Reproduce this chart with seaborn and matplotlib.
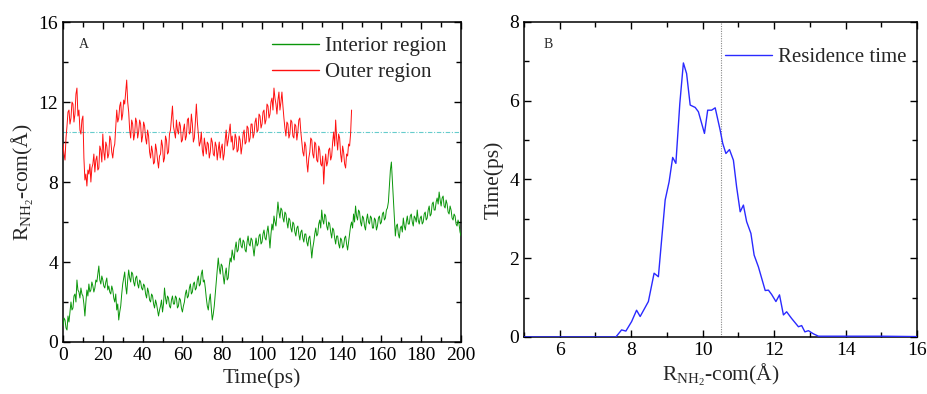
import numpy as np
import matplotlib
matplotlib.use("Agg")
import matplotlib.pyplot as plt
from matplotlib.ticker import MultipleLocator
import seaborn as sns

# ---- data -------------------------------------------------------------
# distance of the NH2 group from the centre of mass (Å), sampled every 0.5 ps
dt = 0.5
outer_dist = [
    9.9, 9.4, 9.1, 10.2, 10.8, 11.5, 11.6, 10.9, 11.2, 12.0,
    11.9, 11.0, 11.4, 12.4, 12.7, 11.3, 11.6, 10.6, 10.4, 11.1,
    11.3, 9.2, 8.1, 8.4, 7.8, 8.6, 8.4, 8.9, 8.0, 8.7,
    8.9, 9.4, 8.5, 9.1, 9.3, 8.6, 8.7, 9.8, 9.6, 9.0,
    10.4, 9.5, 9.1, 10.0, 9.8, 9.2, 9.4, 10.3, 10.1, 9.5,
    9.2, 9.7, 9.9, 10.8, 11.6, 11.0, 11.2, 11.8, 12.0, 11.1,
    11.4, 12.1, 11.9, 12.5, 13.1, 12.0, 11.5, 10.6, 10.2, 11.1,
    10.9, 10.1, 10.4, 11.2, 11.0, 10.2, 10.5, 11.1, 10.9, 10.0,
    10.3, 11.0, 10.8, 10.2, 9.9, 10.6, 10.3, 9.5, 9.2, 9.8,
    9.5, 8.9, 9.0, 9.9, 9.6, 9.1, 8.7, 9.3, 9.4, 10.1,
    9.8, 9.0, 9.2, 10.3, 10.1, 9.4, 9.5, 10.4, 10.6, 11.2,
    11.8, 10.8, 10.5, 10.2, 11.1, 10.6, 10.4, 11.0, 10.8, 10.0,
    10.1, 10.6, 10.9, 10.1, 10.3, 11.1, 11.2, 10.4, 10.5, 11.4,
    10.9, 10.0, 10.2, 11.0, 11.9, 11.0, 10.4, 9.8, 10.0, 10.5,
    9.6, 9.3, 10.2, 9.8, 9.4, 10.0, 9.9, 9.2, 9.5, 10.2,
    10.0, 9.4, 9.3, 10.0, 9.8, 9.1, 9.6, 10.0, 9.2, 9.7,
    9.9, 9.1, 9.4, 10.1, 10.6, 9.8, 10.1, 10.5, 10.9, 10.0,
    10.3, 9.6, 9.7, 10.4, 10.2, 9.5, 9.6, 10.3, 10.1, 9.4,
    9.8, 10.4, 10.6, 9.9, 10.0, 10.8, 10.7, 10.0, 10.2, 10.9,
    10.9, 10.2, 10.4, 11.0, 11.2, 10.5, 10.6, 11.4, 11.3, 10.7,
    10.9, 11.5, 11.6, 10.9, 11.1, 11.9, 11.8, 11.2, 11.4, 12.0,
    12.2, 11.6, 12.7, 12.2, 11.9, 11.4, 12.1, 12.5, 11.6, 12.0,
    12.5, 11.8, 11.2, 10.7, 10.3, 11.0, 10.9, 10.2, 10.4, 11.1,
    11.0, 10.3, 10.2, 10.9, 10.8, 10.1, 10.5, 11.1, 11.2, 10.5,
    10.0, 9.5, 9.3, 10.0, 9.8, 9.0, 8.5, 9.2, 9.5, 10.2,
    10.1, 9.4, 9.2, 10.0, 9.9, 9.1, 9.0, 9.8, 9.6, 8.9,
    8.8, 9.3, 7.9, 8.9, 9.4, 8.8, 9.0, 9.6, 9.7, 9.1,
    9.3, 10.0, 10.5, 9.8, 11.1, 10.2, 9.6, 10.4, 10.2, 9.4,
    9.0, 9.8, 9.5, 8.9, 8.7, 9.4, 9.3, 9.9, 9.8, 10.4,
    11.6,
]

interior_dist = [
    0.8, 1.2, 1.1, 0.7, 0.6, 1.3, 1.0, 1.5, 2.0, 1.6,
    1.7, 2.3, 2.4, 2.0, 3.1, 2.6, 2.5, 2.2, 2.7, 2.4,
    2.3, 1.9, 1.3, 2.0, 2.6, 2.3, 2.9, 2.5, 2.6, 3.0,
    2.8, 2.5, 2.7, 3.1, 3.0, 3.4, 3.8, 3.1, 2.9, 3.3,
    3.1, 2.8, 2.7, 3.0, 3.2, 2.6, 2.8, 2.5, 2.4, 2.8,
    2.6, 2.2, 2.0, 2.4, 1.6, 1.9, 1.1, 1.5, 1.8, 2.4,
    2.9, 3.2, 3.5, 2.8, 2.4, 3.1, 3.6, 3.2, 3.0, 3.5,
    3.4, 3.0, 2.8, 3.2, 3.3, 2.9, 2.7, 3.1, 3.0, 2.7,
    2.6, 2.9, 2.8, 2.4, 2.2, 2.7, 2.5, 2.1, 2.0, 2.4,
    2.3, 1.9, 1.7, 2.1, 1.9, 1.6, 1.3, 1.6, 1.8, 2.1,
    1.5, 1.9, 2.7, 2.2, 1.9, 2.3, 2.2, 1.8, 1.7, 2.1,
    2.3, 1.9, 1.9, 2.3, 2.2, 1.7, 1.8, 2.2, 2.1, 1.7,
    1.5, 1.8, 2.0, 2.4, 2.6, 2.2, 2.3, 2.7, 2.9, 2.4,
    2.5, 2.9, 3.0, 2.6, 2.7, 3.1, 3.3, 2.8, 2.9, 3.4,
    3.6, 3.0, 3.1, 2.7, 2.2, 1.8, 1.6, 2.1, 2.4, 1.7,
    1.1, 1.4, 1.8, 2.4, 3.0, 3.6, 4.2, 3.7, 3.4, 3.9,
    3.8, 3.3, 2.9, 3.4, 3.7, 3.1, 3.2, 3.8, 4.2, 4.0,
    4.6, 4.3, 4.1, 4.7, 5.0, 4.5, 4.6, 5.1, 5.2, 4.8,
    4.7, 5.1, 5.0, 4.6, 4.5, 5.0, 5.3, 4.9, 4.8, 5.2,
    5.1, 4.7, 4.3, 4.8, 5.2, 4.8, 4.9, 5.3, 5.4, 4.9,
    5.0, 5.4, 5.6, 5.2, 5.1, 5.5, 5.8, 5.3, 4.7, 5.4,
    5.9, 5.6, 6.3, 6.0, 5.8, 6.4, 7.0, 6.5, 6.2, 6.7,
    6.6, 6.2, 6.0, 6.5, 6.4, 6.0, 5.7, 6.2, 6.1, 5.7,
    5.5, 6.0, 5.9, 5.5, 5.3, 5.7, 5.8, 5.4, 5.1, 5.5,
    5.6, 5.2, 5.0, 5.4, 5.4, 5.0, 4.8, 5.2, 5.3, 4.8,
    4.2, 4.7, 5.0, 5.4, 5.7, 5.3, 5.4, 5.9, 6.1, 5.7,
    6.6, 6.1, 5.9, 6.4, 6.3, 5.8, 5.6, 6.0, 5.9, 5.5,
    5.2, 5.7, 5.6, 5.2, 4.9, 5.3, 5.3, 4.9, 4.7, 5.2,
    5.1, 4.7, 4.8, 5.2, 5.3, 4.9, 4.6, 5.0, 5.4, 5.8,
    6.0, 5.7, 6.4, 6.0, 6.8, 6.3, 6.1, 6.6, 6.5, 6.0,
    5.8, 6.3, 6.2, 5.8, 5.6, 6.1, 6.4, 6.0, 5.9, 6.3,
    6.2, 5.7, 5.7, 6.2, 6.1, 5.6, 5.8, 6.2, 6.3, 5.9,
    6.0, 6.4, 6.5, 6.1, 6.2, 6.6, 6.7, 7.0, 7.8, 8.6,
    9.0, 8.1, 7.2, 6.3, 5.3, 5.8, 5.9, 5.4, 5.2, 5.7,
    5.8, 5.5, 6.2, 5.8, 5.6, 6.0, 6.3, 5.9, 5.9, 6.3,
    6.4, 6.0, 5.8, 6.3, 6.2, 6.0, 6.6, 6.1, 5.9, 6.2,
    6.3, 5.9, 6.0, 6.4, 6.5, 6.1, 6.2, 6.6, 6.8, 6.3,
    6.4, 6.9, 7.0, 6.6, 6.6, 7.0, 7.2, 6.9, 7.5, 7.1,
    6.8, 7.2, 7.3, 6.8, 6.7, 7.1, 6.9, 6.5, 6.4, 6.8,
    6.6, 6.2, 6.1, 6.4, 6.3, 5.9, 5.8, 6.1, 5.9, 5.5,
    5.3,
]

outer_time = np.arange(len(outer_dist)) * dt
interior_time = np.arange(len(interior_dist)) * dt

boundary_r = 10.5   # interior / outer boundary (Å)

# residence time as a function of distance
res_r = [
    5.0, 7.57, 7.73, 7.85, 8.01, 8.15, 8.25, 8.48, 8.64, 8.76,
    8.85, 8.95, 9.06, 9.16, 9.25, 9.36, 9.46, 9.55, 9.65, 9.79,
    9.88, 10.05, 10.14, 10.25, 10.35, 10.49, 10.56, 10.65, 10.75, 10.86,
    10.95, 11.05, 11.14, 11.23, 11.35, 11.44, 11.56, 11.75, 11.84, 11.93,
    12.05, 12.15, 12.26, 12.35, 12.49, 12.68, 12.77, 12.86, 12.96, 13.10,
    13.24, 14.0, 15.0, 16.0,
]
res_time = [
    0.0, 0.0, 0.18, 0.15, 0.39, 0.68, 0.52, 0.90, 1.62, 1.53,
    2.46, 3.48, 3.94, 4.56, 4.41, 5.93, 6.96, 6.69, 5.89, 5.83,
    5.72, 5.17, 5.76, 5.76, 5.82, 5.25, 4.92, 4.66, 4.76, 4.49,
    3.81, 3.18, 3.35, 2.93, 2.63, 2.08, 1.78, 1.18, 1.19, 1.08,
    0.90, 1.07, 0.56, 0.64, 0.47, 0.26, 0.29, 0.13, 0.16, 0.08,
    0.02, 0.02, 0.02, 0.01,
]

# ---- style ------------------------------------------------------------
sns.set_style("ticks")
plt.rcParams["font.family"] = ["Liberation Serif", "DejaVu Serif"]
plt.rcParams["mathtext.fontset"] = "custom"
plt.rcParams["mathtext.rm"] = "Liberation Serif"
plt.rcParams["mathtext.it"] = "Liberation Serif:italic"
plt.rcParams["axes.linewidth"] = 1.1

TICK_FS = 14
LABEL_FS = 15.5
LEG_FS = 15
fig = plt.figure(figsize=(9.28, 3.94), dpi=100)
axA = fig.add_axes([0.0679, 0.132, 0.4289, 0.812])
axB = fig.add_axes([0.5647, 0.1447, 0.4235, 0.7995])


def style_axes(ax):
    ax.tick_params(which="both", direction="in", top=True, right=True,
                   labelsize=TICK_FS, colors="black", width=1.0)
    ax.tick_params(which="major", length=5)
    ax.tick_params(which="minor", length=3.5)
    for s in ax.spines.values():
        s.set_color("black")


# ---- panel A ----------------------------------------------------------
axA.axhline(boundary_r, color="#66cccc", lw=0.8, ls=(0, (4, 1.5, 1, 1.5)), zorder=1)
sns.lineplot(x=interior_time, y=interior_dist, ax=axA, color="#0a960a",
             lw=0.7, label="Interior region", zorder=3)
sns.lineplot(x=outer_time, y=outer_dist, ax=axA, color="#ff1010",
             lw=0.7, label="Outer region", zorder=3)
axA.set_xlim(0, 200)
axA.set_ylim(0, 16)
axA.xaxis.set_major_locator(MultipleLocator(20))
axA.xaxis.set_minor_locator(MultipleLocator(10))
axA.yaxis.set_major_locator(MultipleLocator(4))
axA.yaxis.set_minor_locator(MultipleLocator(2))
axA.set_xlabel("Time(ps)", fontsize=LABEL_FS, labelpad=3)
axA.set_ylabel(r"R$_{\mathrm{NH_2}}$-com(Å)", fontsize=LABEL_FS, labelpad=2)
style_axes(axA)
axA.text(0.04, 0.93, "A", transform=axA.transAxes, fontsize=10, va="center")
legA = axA.legend(loc="upper right", frameon=False, fontsize=LEG_FS,
                  handlelength=2.25, handletextpad=0.3, labelspacing=0.3,
                  borderaxespad=0.3, bbox_to_anchor=(1.0, 1.0))
for h in legA.get_lines():
    h.set_linewidth(1.0)

# ---- panel B ----------------------------------------------------------
axB.axvline(boundary_r, color="#888888", lw=0.8, ls=(0, (1, 1.2)), zorder=1)
sns.lineplot(x=res_r, y=res_time, ax=axB, color="#2a2aff", lw=1.0,
             label="Residence time", zorder=3)
axB.set_xlim(5, 16)
axB.set_ylim(0, 8)
axB.xaxis.set_major_locator(MultipleLocator(2))
axB.xaxis.set_minor_locator(MultipleLocator(1))
axB.yaxis.set_major_locator(MultipleLocator(2))
axB.yaxis.set_minor_locator(MultipleLocator(1))
axB.set_xlabel(r"R$_{\mathrm{NH_2}}$-com(Å)", fontsize=LABEL_FS, labelpad=2)
axB.set_ylabel("Time(ps)", fontsize=LABEL_FS, labelpad=4)
style_axes(axB)
axB.text(0.05, 0.93, "B", transform=axB.transAxes, fontsize=10, va="center")
legB = axB.legend(loc="upper right", frameon=False, fontsize=LEG_FS,
                  handlelength=2.25, handletextpad=0.3,
                  borderaxespad=0.3, bbox_to_anchor=(1.01, 0.965))
for h in legB.get_lines():
    h.set_linewidth(1.0)

fig.savefig("out.png", dpi=100)
